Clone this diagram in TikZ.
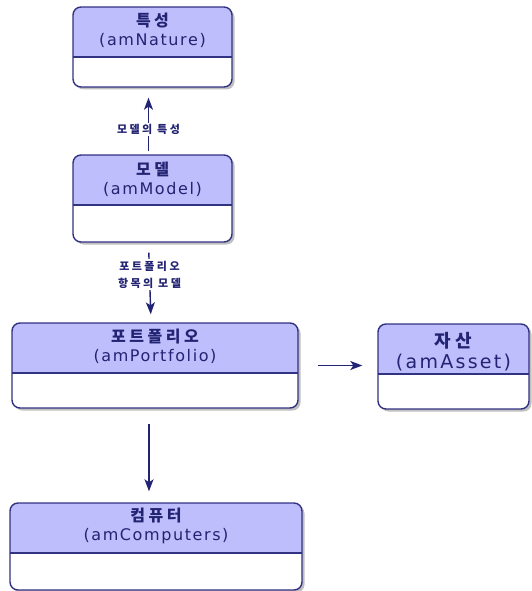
\documentclass[tikz,border=0pt]{standalone}
\usepackage{fontspec}
\usetikzlibrary{arrows.meta,shadows}
\newfontfamily\kr[LetterSpace=22]{Noto Sans CJK KR}
\newfontfamily\lat[LetterSpace=10]{DejaVu Sans}
\newfontfamily\latw[LetterSpace=12]{DejaVu Sans}
\definecolor{hdrfill}{RGB}{190,190,252}
\definecolor{navyline}{RGB}{50,50,130}
\definecolor{navytext}{RGB}{35,35,115}
\tikzset{
  entity/.style={draw=navyline, line width=1.4pt, rounded corners=8pt, fill=white,
    drop shadow={shadow xshift=2.5pt, shadow yshift=-2.5pt, opacity=0.5},
    path picture={
      \fill[hdrfill, sharp corners] (path picture bounding box.north west) rectangle ([yshift=-50pt]path picture bounding box.north east);
      \draw[navyline, line width=1.4pt, sharp corners] ([yshift=-50pt]path picture bounding box.north west) -- ([yshift=-50pt]path picture bounding box.north east);}},
  title/.style={align=center, text=navytext, font=\fontsize{16}{19}\selectfont, inner sep=0pt},
  link/.style={draw=navytext, line width=1.4pt, -{Stealth[length=12pt,width=9pt,inset=3pt]}},
  elabel/.style={fill=white, align=center, inner sep=1.5pt, text=navytext, font=\fontsize{11}{17}\selectfont\kr\bfseries},
}

\begin{document}
\begin{tikzpicture}[x=1pt,y=-1pt]
  \useasboundingbox (0,0) rectangle (531,591);
  %상자
  \node[entity, minimum width=159pt, minimum height=80pt] (nature) at (152.5,47) {};
  \node[title] (nature-t) at ([yshift=-24pt]nature.north) {{\kr\bfseries 특성}\\{\lat (amNature)}};

  \node[entity, minimum width=159pt, minimum height=87pt] (model) at (152.5,198.5) {};
  \node[title] (model-t) at ([yshift=-25pt]model.north) {{\kr\bfseries 모델}\\{\lat (amModel)}};

  \node[entity, minimum width=286pt, minimum height=85pt] (portfolio) at (155,365.5) {};
  \node[title] (portfolio-t) at ([yshift=-24pt]portfolio.north) {{\kr\bfseries 포트폴리오}\\{\lat (amPortfolio)}};

  \node[entity, minimum width=151pt, minimum height=85pt] (asset) at (453.5,366.5) {};
  \node[title, font=\fontsize{18}{21}\selectfont] (asset-t) at ([yshift=-28pt]asset.north) {{\kr\bfseries 자산}\\{\fontsize{19}{21}\selectfont\latw (amAsset)}};

  \node[entity, minimum width=292pt, minimum height=87pt] (computers) at (156,546.5) {};
  \node[title] (computers-t) at ([yshift=-24pt]computers.north) {{\kr\bfseries 컴퓨터}\\{\lat (amComputers)}};

  %연결
  \draw[link, shorten <=3pt, shorten >=10pt] ([xshift=-4pt]model.north) -- node[elabel, pos=0.37] (lbl-nature) {모델의 특성} ([xshift=-4pt]nature.south);
  \draw[link, shorten <=10pt, shorten >=8pt] ([xshift=-4pt]model.south) -- node[elabel, pos=0.4] (lbl-model) {포트폴리오\\항목의 모델} ([xshift=-4pt]portfolio.north);
  \draw[link, shorten <=19pt, shorten >=15pt] (portfolio.east) -- (portfolio.east -| asset.west);
  \draw[link, shorten <=15pt, shorten >=11pt] ([xshift=-6pt]portfolio.south) -- ([xshift=-6pt]portfolio.south |- computers.north);
\end{tikzpicture}
\end{document}
